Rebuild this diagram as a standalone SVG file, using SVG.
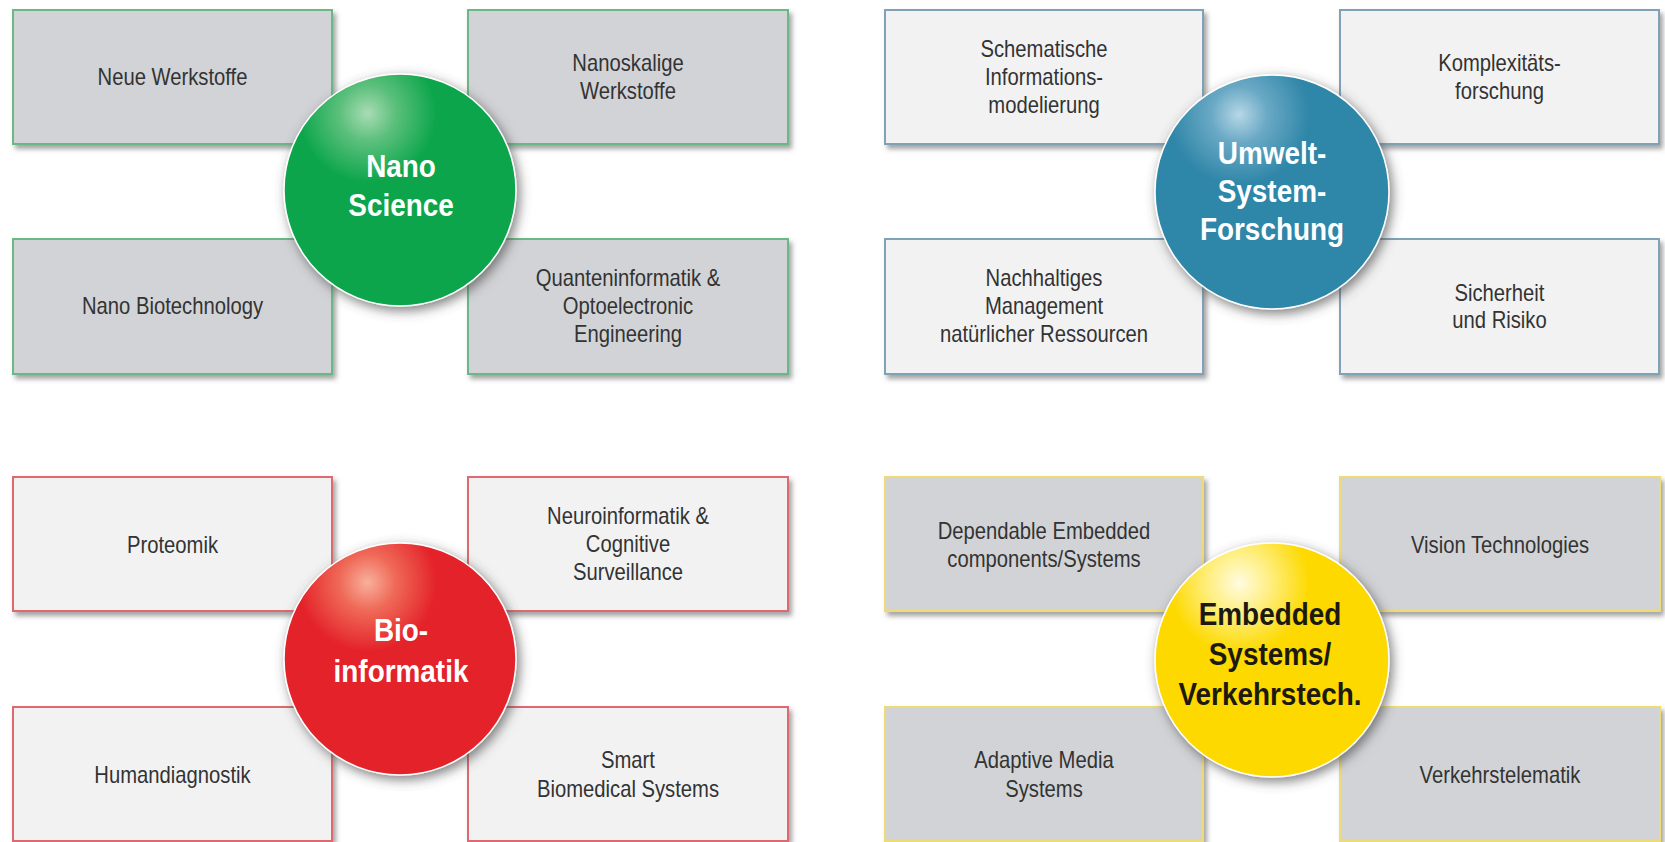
<svg xmlns="http://www.w3.org/2000/svg" width="1665" height="842" viewBox="0 0 1665 842">
<defs>
<filter id="boxShadow" x="-5%" y="-5%" width="115%" height="120%">
<feDropShadow dx="3" dy="4" stdDeviation="2.5" flood-color="#666666" flood-opacity="0.6"/>
</filter>
<filter id="ballShadow" x="-20%" y="-20%" width="140%" height="140%">
<feDropShadow dx="3" dy="4" stdDeviation="6" flood-color="#4a4a4a" flood-opacity="0.7"/>
</filter>
<radialGradient id="gGreen" cx="0.36" cy="0.17" r="0.3">
<stop offset="0" stop-color="#a9dcb4"/><stop offset="0.4" stop-color="#5cc07c"/><stop offset="1" stop-color="#0ba54b"/>
</radialGradient>
<radialGradient id="gBlue" cx="0.36" cy="0.17" r="0.3">
<stop offset="0" stop-color="#b7d7e6"/><stop offset="0.4" stop-color="#6aa9c5"/><stop offset="1" stop-color="#2f86a8"/>
</radialGradient>
<radialGradient id="gRed" cx="0.36" cy="0.17" r="0.3">
<stop offset="0" stop-color="#f8b09c"/><stop offset="0.4" stop-color="#ef6a58"/><stop offset="1" stop-color="#e42229"/>
</radialGradient>
<radialGradient id="gYellow" cx="0.36" cy="0.17" r="0.3">
<stop offset="0" stop-color="#fffbe0"/><stop offset="0.4" stop-color="#fff08a"/><stop offset="1" stop-color="#fdd900"/>
</radialGradient>
</defs>
<style>
.box{stroke-width:2;filter:url(#boxShadow)}
.gr{fill:#d2d3d6}
.lt{fill:#f2f2f3}
.bGreen{stroke:#6bb885}
.bBlue{stroke:#7fa2b6}
.bRed{stroke:#dc6a70}
.bYellow{stroke:#eedb74}
.lbl{font-family:"Liberation Sans",Arial,sans-serif;font-size:23px;fill:#333333;text-anchor:middle}
.ball{stroke:#ffffff;stroke-width:1.5;filter:url(#ballShadow)}
.hub{font-family:"Liberation Sans",Arial,sans-serif;font-size:31px;font-weight:bold;text-anchor:middle;fill:#ffffff}
.hubDark{fill:#1c1a10}
</style>
<rect width="1665" height="842" fill="#ffffff"/>
<g id="connectors"></g>

<!-- Quadrant 1: Nano Science -->
<g id="q1-tl"><rect class="box gr bGreen" x="13" y="10" width="319" height="134"/>
<text class="lbl" transform="translate(172.5,85) scale(0.88,1)">Neue Werkstoffe</text></g>
<g id="q1-tr"><rect class="box gr bGreen" x="468" y="10" width="320" height="134"/>
<text class="lbl" transform="translate(628,71) scale(0.88,1)"><tspan x="0">Nanoskalige</tspan><tspan x="0" dy="28">Werkstoffe</tspan></text></g>
<g id="q1-bl"><rect class="box gr bGreen" x="13" y="239" width="319" height="135"/>
<text class="lbl" transform="translate(172.5,314) scale(0.88,1)">Nano Biotechnology</text></g>
<g id="q1-br"><rect class="box gr bGreen" x="468" y="239" width="320" height="135"/>
<text class="lbl" transform="translate(628,286) scale(0.88,1)"><tspan x="0">Quanteninformatik &amp;</tspan><tspan x="0" dy="28">Optoelectronic</tspan><tspan x="0" dy="28">Engineering</tspan></text></g>
<g id="hub-nano"><circle class="ball" cx="400" cy="190" r="116" fill="url(#gGreen)"/>
<text class="hub" transform="translate(401,177) scale(0.9,1)"><tspan x="0">Nano</tspan><tspan x="0" dy="39">Science</tspan></text></g>

<!-- Quadrant 2: Umwelt-System-Forschung -->
<g id="q2-tl"><rect class="box lt bBlue" x="885" y="10" width="318" height="134"/>
<text class="lbl" transform="translate(1044,57) scale(0.88,1)"><tspan x="0">Schematische</tspan><tspan x="0" dy="28">Informations-</tspan><tspan x="0" dy="28">modelierung</tspan></text></g>
<g id="q2-tr"><rect class="box lt bBlue" x="1340" y="10" width="319" height="134"/>
<text class="lbl" transform="translate(1499.5,71) scale(0.88,1)"><tspan x="0">Komplexitäts-</tspan><tspan x="0" dy="28">forschung</tspan></text></g>
<g id="q2-bl"><rect class="box lt bBlue" x="885" y="239" width="318" height="135"/>
<text class="lbl" transform="translate(1044,286) scale(0.88,1)"><tspan x="0">Nachhaltiges</tspan><tspan x="0" dy="28">Management</tspan><tspan x="0" dy="28">natürlicher Ressourcen</tspan></text></g>
<g id="q2-br"><rect class="box lt bBlue" x="1340" y="239" width="319" height="135"/>
<text class="lbl" transform="translate(1499.5,301) scale(0.88,1)"><tspan x="0">Sicherheit</tspan><tspan x="0" dy="27">und Risiko</tspan></text></g>
<g id="hub-umwelt"><circle class="ball" cx="1272" cy="192" r="117" fill="url(#gBlue)"/>
<text class="hub" transform="translate(1272,164) scale(0.9,1)"><tspan x="0">Umwelt-</tspan><tspan x="0" dy="38">System-</tspan><tspan x="0" dy="38">Forschung</tspan></text></g>

<!-- Quadrant 3: Bioinformatik -->
<g id="q3-tl"><rect class="box lt bRed" x="13" y="477" width="319" height="134"/>
<text class="lbl" transform="translate(172.5,553) scale(0.88,1)">Proteomik</text></g>
<g id="q3-tr"><rect class="box lt bRed" x="468" y="477" width="320" height="134"/>
<text class="lbl" transform="translate(628,524) scale(0.88,1)"><tspan x="0">Neuroinformatik &amp;</tspan><tspan x="0" dy="28">Cognitive</tspan><tspan x="0" dy="28">Surveillance</tspan></text></g>
<g id="q3-bl"><rect class="box lt bRed" x="13" y="707" width="319" height="134"/>
<text class="lbl" transform="translate(172.5,783) scale(0.88,1)">Humandiagnostik</text></g>
<g id="q3-br"><rect class="box lt bRed" x="468" y="707" width="320" height="134"/>
<text class="lbl" transform="translate(628,768) scale(0.88,1)"><tspan x="0">Smart</tspan><tspan x="0" dy="29">Biomedical Systems</tspan></text></g>
<g id="hub-bio"><circle class="ball" cx="400" cy="659" r="116" fill="url(#gRed)"/>
<text class="hub" transform="translate(401,641) scale(0.9,1)"><tspan x="0">Bio-</tspan><tspan x="0" dy="41">informatik</tspan></text></g>

<!-- Quadrant 4: Embedded Systems / Verkehrstechnik -->
<g id="q4-tl"><rect class="box gr bYellow" x="885" y="477" width="318" height="134"/>
<text class="lbl" transform="translate(1044,539) scale(0.88,1)"><tspan x="0">Dependable Embedded</tspan><tspan x="0" dy="28">components/Systems</tspan></text></g>
<g id="q4-tr"><rect class="box gr bYellow" x="1340" y="477" width="320" height="134"/>
<text class="lbl" transform="translate(1500,553) scale(0.88,1)">Vision Technologies</text></g>
<g id="q4-bl"><rect class="box gr bYellow" x="885" y="707" width="318" height="134"/>
<text class="lbl" transform="translate(1044,768) scale(0.88,1)"><tspan x="0">Adaptive Media</tspan><tspan x="0" dy="29">Systems</tspan></text></g>
<g id="q4-br"><rect class="box gr bYellow" x="1340" y="707" width="320" height="134"/>
<text class="lbl" transform="translate(1500,783) scale(0.88,1)">Verkehrstelematik</text></g>
<g id="hub-embedded"><circle class="ball" cx="1272" cy="660" r="117" fill="url(#gYellow)"/>
<text class="hub hubDark" transform="translate(1270,625) scale(0.9,1)"><tspan x="0">Embedded</tspan><tspan x="0" dy="40">Systems/</tspan><tspan x="0" dy="40">Verkehrstech.</tspan></text></g>
</svg>
